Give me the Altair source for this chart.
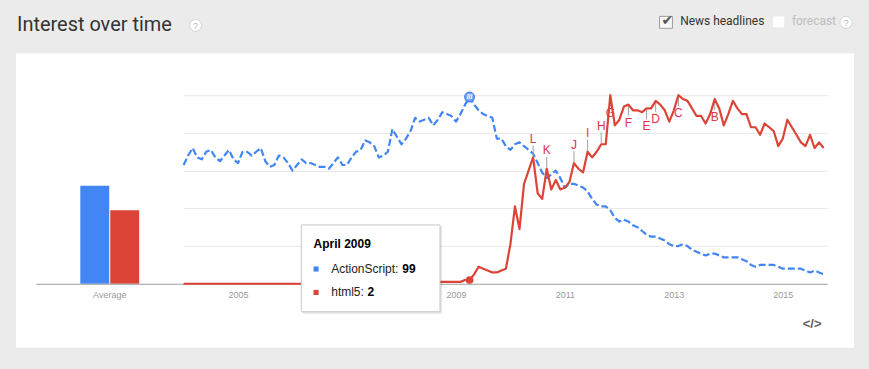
import altair as alt
import pandas as pd

# ---------------- data ----------------
series_names = ["ActionScript", "html5"]
series_colors = ["#4285f4", "#db4437"]

average_label = "Average"
average_values = [52, 39]

# monthly interest, January 2004 .. October 2015 (month index 0..141)
actionscript = [
    63, 68, 72, 67, 66, 70, 71, 67, 65, 68, 71, 66, 64, 70, 70, 68, 70, 72, 65, 62,
    63, 68, 67, 64, 60, 63, 66, 64, 64, 63, 62, 62, 61, 64, 67, 63, 63, 67, 70, 71,
    76, 75, 73, 67, 68, 70, 82, 78,
    74, 77, 81, 88, 86, 87, 88, 84, 87, 91, 90, 89, 86, 90, 95, 99, 95, 92, 90, 89,
    88, 77, 77, 73, 71, 74, 75, 73, 71, 69, 64, 59, 56, 58, 60, 56, 51, 53, 53, 52,
    51, 49, 45, 42, 41, 41, 39,
    35, 33, 34, 33, 31, 30, 28, 26, 25, 25, 24, 23, 21, 20, 20, 21, 20, 18, 17, 16,
    15, 16, 16, 15, 14, 14, 14, 14, 13, 12, 10, 9, 10, 10, 10, 10, 9, 8, 8, 8,
    8, 8, 7, 6, 7, 6, 5,
]
html5 = [
    0, 0, 0, 0, 0, 0, 0, 0, 0, 0, 0, 0, 0, 0, 0, 0, 0, 0, 0, 0,
    0, 0, 0, 0, 0, 0, 0, 0, 0, 0, 0, 0, 0, 0, 0, 0, 0, 0, 0, 0,
    0, 0, 0, 0, 0, 1, 1, 1, 1, 1, 1, 1, 1, 1, 1, 1, 1, 1, 1, 1,
    1, 1, 2, 2,
    5, 9, 8, 7, 6, 6, 7, 8, 21, 41, 29, 53, 60, 67, 48, 45, 61, 50, 55, 50,
    51, 54, 64, 61, 59, 70, 67, 70, 74, 74, 100, 84, 87, 94, 95, 92, 92, 91, 93, 93,
    97, 95, 92, 86, 92, 100, 98, 97, 93, 89, 89, 85, 90, 98, 93, 84, 90, 97, 93, 90,
    90, 83, 83, 79, 85, 83, 81, 73, 77, 87, 83, 79, 75, 73, 79, 72, 75, 72,
]

# 2007 sits under the tooltip in the reference, so only the visible years are labelled
tick_years = [2005, 2009, 2011, 2013, 2015]

news_letters = ["L", "K", "J", "I", "H", "G", "F", "E", "D", "C", "B"]
news_months = [77, 80, 86, 89, 92, 94, 98, 102, 104, 109, 117]
news_side = ["above", "above", "above", "above", "above",
             "below", "below", "below", "below", "below", "below"]

tooltip_month = 63
tooltip_title = "April 2009"

title_text = "Interest over time"
news_label = "News headlines"
forecast_label = "forecast"
embed_icon = "</>"

# ---------------- tables ----------------
m_idx = list(range(len(actionscript)))
blue_df = pd.DataFrame({"m": m_idx, "series": "ActionScript", "value": actionscript})
red_df = pd.DataFrame({"m": m_idx, "series": "html5", "value": html5})
avg_df = pd.DataFrame({"label": [average_label] * 2, "series": series_names,
                       "value": average_values})
news_df = pd.DataFrame({"letter": news_letters, "m": news_months, "side": news_side,
                        "value": [html5[m] for m in news_months]})
hover_df = pd.DataFrame({"m": [tooltip_month] * 2, "series": series_names,
                         "value": [actionscript[tooltip_month], html5[tooltip_month]]})
one = pd.DataFrame({"k": [0]})

FONT = "Liberation Sans"
W_LEFT, W_RIGHT, H = 148, 645, 189
X_MAX = 141.76
NEWS_COLOR = "#e0344e"
GREY_AXIS = "#9e9e9e"
LABEL_GREY = "#9a9a9a"

color_scale = alt.Scale(domain=series_names, range=series_colors)
y_scale = alt.Scale(domain=[0, 100], nice=False, zero=True)

x_m = alt.X("m:Q", scale=alt.Scale(domain=[0, X_MAX], nice=False, zero=False),
            axis=alt.Axis(values=[(y - 2004) * 12 for y in tick_years],
                          labelExpr="format(2004 + datum.value / 12, 'd')",
                          title=None, grid=False, ticks=False, tickSize=0,
                          domainColor=GREY_AXIS, labelColor=LABEL_GREY,
                          labelFont=FONT, labelFontSize=9, labelPadding=7))
y_v = alt.Y("value:Q", scale=y_scale,
            axis=alt.Axis(values=[20, 40, 60, 80, 100], grid=True, gridColor="#e8e8e8",
                          labels=False, ticks=False, domain=False, title=None))


def px_text(text, x, y, **kw):
    return alt.Chart(one).mark_text(text=text, **kw).encode(x=alt.value(x), y=alt.value(y))


def px_rect(x1, x2, y1, y2, **kw):
    return alt.Chart(one).mark_rect(**kw).encode(
        x=alt.value(x1), x2=alt.value(x2), y=alt.value(y1), y2=alt.value(y2))


def px_point(x, y, **kw):
    return alt.Chart(one).mark_point(**kw).encode(x=alt.value(x), y=alt.value(y))


# ---------------- left panel: averages + page decoration ----------------
bars = alt.Chart(avg_df).mark_bar().encode(
    x=alt.X("label:N", scale=alt.Scale(paddingInner=0, paddingOuter=0.7542),
            axis=alt.Axis(title=None, labelAngle=0, ticks=False, tickSize=0,
                          domainColor=GREY_AXIS, labelColor=LABEL_GREY,
                          labelFont=FONT, labelFontSize=9, labelPadding=7,
                          zindex=1)),
    xOffset=alt.XOffset("series:N", scale=alt.Scale(domain=series_names,
                                                    paddingInner=0.034, paddingOuter=0)),
    y=alt.Y("value:Q", scale=y_scale, axis=None),
    color=alt.Color("series:N", scale=color_scale, legend=None),
)

left = alt.layer(
    px_rect(-35, 834, -94, 275, fill="#ebebeb"),
    px_rect(-20, 820, -42, 253, fill="white"),
    bars,
    px_text(title_text, -19, -64.7, font="Roboto", fontSize=20, color="#333333",
            align="left", baseline="alphabetic"),
    px_point(160, -70, shape="circle", size=140, filled=True, fill="white",
             stroke="#d3d3d3", strokeWidth=1, opacity=1),
    px_text("?", 160, -69.5, font=FONT, fontSize=9, color="#b5b5b5",
            align="center", baseline="middle"),
    px_rect(625, 638, -79, -67, fill="#f7f7f7", stroke="#a0a0a0", strokeWidth=1),
    px_text("\u2714", 633, -74, font="DejaVu Sans", fontSize=14, color="#555555",
            align="center", baseline="middle"),
    px_text(news_label, 645.7, -70, font="Roboto", fontSize=12, color="#333333",
            align="left", baseline="alphabetic"),
    px_rect(739, 750, -79, -68, fill="white"),
    px_text(forecast_label, 757.7, -70, font="Roboto", fontSize=12, color="#bdbdbd",
            align="left", baseline="alphabetic"),
    px_point(812, -73, shape="circle", size=150, filled=True, fill="white",
             stroke="#d3d3d3", strokeWidth=1, opacity=1),
    px_text("?", 812, -72.5, font=FONT, fontSize=10, color="#b5b5b5",
            align="center", baseline="middle"),
    px_text(embed_icon, 778, 229, font=FONT, fontSize=13, fontWeight="bold",
            color="#606060", align="center", baseline="middle"),
).properties(width=W_LEFT, height=H)

# ---------------- right panel: interest over time ----------------
blue_line = alt.Chart(blue_df).mark_line(strokeWidth=2.2, strokeDash=[7, 3],
                                         strokeJoin="round").encode(
    x=x_m, y=y_v, color=alt.Color("series:N", scale=color_scale, legend=None))
red_line = alt.Chart(red_df).mark_line(strokeWidth=2.2, strokeJoin="round").encode(
    x=x_m, y=y_v, color=alt.Color("series:N", scale=color_scale, legend=None))

news_above = news_df[news_df.side == "above"]
news_below = news_df[news_df.side == "below"]

stems_above = alt.Chart(news_above).mark_rule(color="#a0a0a0", strokeWidth=1,
                                              yOffset=-12, y2Offset=-1).encode(
    x="m:Q", y="value:Q", y2="value:Q")
stems_below = alt.Chart(news_below).mark_rule(color="#a0a0a0", strokeWidth=1,
                                              yOffset=1, y2Offset=11).encode(
    x="m:Q", y="value:Q", y2="value:Q")
letters_above = alt.Chart(news_above).mark_text(font=FONT, fontSize=12, color=NEWS_COLOR,
                                                baseline="alphabetic", dy=-14.5).encode(
    x="m:Q", y="value:Q", text="letter:N")
letters_below = alt.Chart(news_below).mark_text(font=FONT, fontSize=12, color=NEWS_COLOR,
                                                baseline="alphabetic", dy=22).encode(
    x="m:Q", y="value:Q", text="letter:N")

hover_blue = alt.Chart(hover_df[hover_df.series == "ActionScript"]).mark_point(
    shape="circle", filled=True, size=90, fill="#7fa9f5", stroke="#4285f4",
    strokeWidth=1.5, opacity=1).encode(x="m:Q", y="value:Q")
hover_hatch = alt.Chart(hover_df[hover_df.series == "ActionScript"]).mark_text(
    text="///", font=FONT, fontSize=7, fontWeight="bold", color="white",
    baseline="middle").encode(x="m:Q", y="value:Q")
hover_red = alt.Chart(hover_df[hover_df.series == "html5"]).mark_point(
    shape="circle", filled=True, size=60, color="#db4437", opacity=1).encode(
    x="m:Q", y="value:Q")

tip = [
    px_rect(119, 259, 131, 219, fill="black", opacity=0.10),
    px_rect(118, 257, 130, 217, fill="white", stroke="#c8c8c8", strokeWidth=1),
    px_text(tooltip_title, 130.3, 152.7, font=FONT, fontSize=12, fontWeight="bold",
            color="#000000", align="left", baseline="alphabetic"),
    alt.Chart(one).mark_square(size=26, color=series_colors[0], opacity=1).encode(
        x=alt.value(132.8), y=alt.value(174.2)),
    px_text(series_names[0] + ":", 148, 178.3, font=FONT, fontSize=12, color="#222222",
            align="left", baseline="alphabetic"),
    px_text(str(actionscript[tooltip_month]), 219.3, 178.3, font=FONT, fontSize=12,
            fontWeight="bold", color="#000000", align="left", baseline="alphabetic"),
    alt.Chart(one).mark_square(size=26, color=series_colors[1], opacity=1).encode(
        x=alt.value(132.8), y=alt.value(197.7)),
    px_text(series_names[1] + ":", 148, 201, font=FONT, fontSize=12, color="#222222",
            align="left", baseline="alphabetic"),
    px_text(str(html5[tooltip_month]), 184.3, 201, font=FONT, fontSize=12,
            fontWeight="bold", color="#000000", align="left", baseline="alphabetic"),
]

right = alt.layer(
    blue_line, stems_above, stems_below, letters_above, letters_below, red_line,
    hover_blue, hover_hatch, hover_red, *tip,
).properties(width=W_RIGHT, height=H)

chart = alt.hconcat(left, right, spacing=0, bounds="flush").properties(
    padding=0, background="#ebebeb",
).configure_view(stroke="transparent")

chart.save("out.html", embed_options={"renderer": "svg", "actions": False})
